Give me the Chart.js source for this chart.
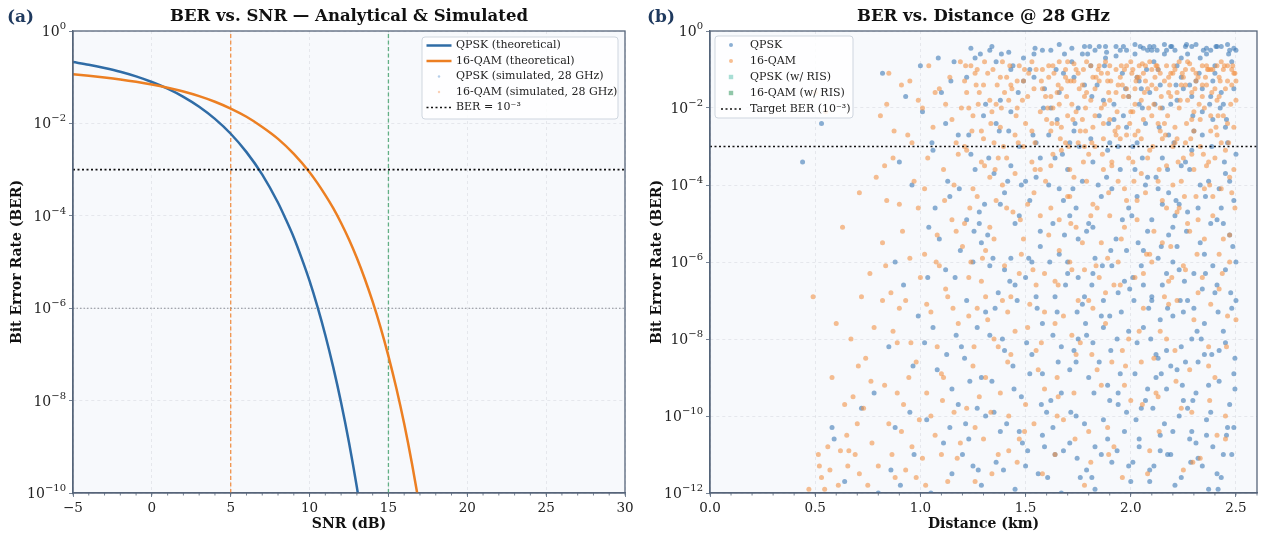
<!DOCTYPE html>
<html>
<head>
<meta charset="utf-8">
<script src="https://cdn.jsdelivr.net/npm/chart.js@4.4.1/dist/chart.umd.min.js"></script>
<style>
  html, body { margin: 0; padding: 0; background: #ffffff; }
  #wrap { position: relative; width: 1261px; height: 534px; }
  .panel { position: absolute; top: 0; height: 534px; }
  #left { left: 0; width: 640px; }
  #right { left: 640px; width: 621px; }
</style>
</head>
<body>
<div id="wrap">
  <div class="panel" id="left"><canvas id="snrChart"></canvas></div>
  <div class="panel" id="right"><canvas id="distChart"></canvas></div>
</div>
<script>
// ---- panel (a): BER vs SNR ----
const snr_qpsk = [-5, -4, -3, -2, -1, 0, 1, 2, 3, 4, 5, 6, 7, 8, 8.5, 9, 9.5, 10, 10.5, 11, 11.5, 12, 12.5, 13, 13.5];
const ber_qpsk = [0.213, 0.186, 0.158, 0.131, 0.104, 0.0786, 0.0563, 0.0375, 0.0229, 0.0125, 0.00597, 0.00239,
  7.8e-4, 1.92e-4, 8.3e-5, 3.4e-5, 1.2e-5, 3.9e-6, 1.08e-6, 2.6e-7, 5.3e-8, 9.0e-9, 1.24e-9, 1.33e-10, 1.1e-11];

const snr_qam16 = [-5, -4, -3, -2, -1, 0, 1, 2, 3, 4, 5, 6, 7, 8, 9, 10, 10.5, 11, 11.5, 12, 12.5, 13, 13.5, 14, 14.5, 15, 15.5, 16, 16.5, 17];
const ber_qam16 = [0.1153, 0.1074, 0.0987, 0.0895, 0.0797, 0.0696, 0.0592, 0.049, 0.0389, 0.0294, 0.0209, 0.0139,
  0.00838, 0.00463, 0.00219, 8.77e-4, 5.1e-4, 2.8e-4, 1.46e-4, 6.97e-5, 3.06e-5, 1.22e-5, 4.35e-6, 1.38e-6,
  3.86e-7, 9.2e-8, 1.87e-8, 3.14e-9, 4.2e-10, 4.5e-11];

const snrTicks = [-5, 0, 5, 10, 15, 20, 25, 30];
const berTicksA = [1, 1e-2, 1e-4, 1e-6, 1e-8, 1e-10];
const snrMarkers = [5, 15];          // vertical dashed lines
const berTarget = 1e-3;
const berRef = 1e-6;

// ---- panel (b): BER vs distance, [km, log10(BER)] ----
const qpskPts = [
  [0.44,-3.4],[0.53,-2.4],[0.58,-10.3],[0.59,-10.6],[0.64,-11.7],[0.72,-9.8],[0.78,-9.4],[0.80,-12.0],
  [0.82,-1.1],[0.85,-8.2],[0.86,-11.4],[0.88,-10.3],[0.9,-3.4],[0.92,-6.6],[0.95,-9.9],[0.97,-11.0],[0.99,-7.4],[1.0,-0.9],
  [1.01,-2.1],[1.03,-10.1],[1.04,-5.1],[1.05,-12.0],[1.07,-4.6],[1.08,-8.8],[1.1,-1.6],[1.11,-10.7],[1.12,-6.2],[1.13,-3.9],
  [1.15,-11.5],[1.15,-9.3],[1.16,-0.8],[1.17,-7.9],[1.18,-2.7],[1.19,-5.7],[1.2,-11.0],[1.14,-4.3],[1.06,-7.7],[0.93,-1.7],
  [1.21,-8.5],[1.22,-1.2],[1.23,-10.6],[1.24,-3.2],[1.25,-6.0],[1.26,-0.7],[1.27,-9.8],[1.28,-4.7],[1.29,-11.8],[1.3,-2.2],
  [1.31,-7.3],[1.32,-5.3],[1.33,-0.5],[1.34,-9.1],[1.35,-3.7],[1.36,-11.2],[1.37,-6.8],[1.38,-1.8],[1.39,-8.0],[1.4,-4.2],
  [1.41,-10.2],[1.42,-2.6],[1.43,-5.9],[1.44,-0.9],[1.45,-11.9],[1.46,-7.0],[1.47,-3.0],[1.48,-9.5],[1.49,-1.3],[1.5,-6.4],
  [1.51,-10.9],[1.52,-4.4],[1.53,-8.4],[1.54,-0.6],[1.55,-2.9],[1.56,-11.5],[1.57,-5.6],[1.58,-7.6],[1.59,-1.5],[1.6,-9.9],
  [1.22,-4.9],[1.27,-7.7],[1.31,-10.0],[1.36,-2.4],[1.4,-6.2],[1.44,-8.7],[1.47,-4.8],[1.52,-1.0],[1.55,-6.9],[1.58,-10.5],
  [1.29,-5.5],[1.34,-0.4],[1.43,-3.5],[1.5,-11.3],[1.57,-3.3],
  [1.61,-4.0],[1.62,-0.5],[1.63,-7.9],[1.64,-11.0],[1.65,-2.3],[1.66,-5.8],[1.67,-9.4],[1.68,-1.1],[1.69,-6.6],[1.7,-3.6],
  [1.71,-10.7],[1.72,-0.8],[1.73,-8.3],[1.74,-4.6],[1.75,-2.0],[1.76,-11.6],[1.77,-7.1],[1.78,-0.4],[1.79,-5.2],[1.8,-9.0],
  [1.81,-2.8],[1.82,-6.3],[1.83,-11.9],[1.84,-1.4],[1.85,-8.6],[1.86,-4.3],[1.87,-10.1],[1.88,-0.7],[1.89,-3.1],[1.9,-7.4],
  [1.91,-11.2],[1.92,-1.9],[1.93,-5.4],[1.94,-9.7],[1.95,-0.5],[1.96,-4.9],[1.97,-10.4],[1.98,-2.5],[1.99,-7.8],[2.0,-11.7],
  [1.62,-9.6],[1.64,-3.3],[1.66,-1.6],[1.68,-10.9],[1.7,-6.0],[1.73,-1.2],[1.75,-8.0],[1.77,-3.9],[1.79,-11.4],[1.81,-0.9],
  [1.83,-5.9],[1.85,-2.2],[1.87,-7.0],[1.89,-9.2],[1.91,-4.1],[1.93,-0.4],[1.95,-8.9],[1.97,-6.5],[1.99,-1.7],[1.63,-5.0],
  [1.67,-12.0],[1.71,-4.8],[1.74,-10.0],[1.78,-6.9],[1.82,-3.4],[1.86,-11.0],[1.9,-2.9],[1.94,-6.8],[1.98,-9.9],[1.65,-7.3],
  [2.01,-3.0],[2.02,-0.6],[2.03,-8.1],[2.04,-10.8],[2.05,-1.5],[2.06,-5.7],[2.07,-2.4],[2.08,-9.3],[2.09,-0.4],[2.1,-6.9],
  [2.11,-11.3],[2.12,-3.8],[2.13,-1.0],[2.14,-7.5],[2.15,-4.5],[2.16,-10.2],[2.17,-0.5],[2.18,-2.7],[2.19,-8.7],[2.2,-5.1],
  [2.21,-11.8],[2.22,-1.8],[2.23,-6.2],[2.24,-0.7],[2.25,-9.6],[2.26,-3.4],[2.27,-4.7],[2.28,-10.6],[2.29,-0.4],[2.3,-7.2],
  [2.31,-1.3],[2.32,-11.1],[2.33,-5.5],[2.34,-2.1],[2.35,-8.4],[2.36,-0.6],[2.37,-3.9],[2.38,-9.9],[2.39,-6.1],[2.4,-1.1],
  [2.41,-11.5],[2.42,-4.1],[2.43,-0.4],[2.44,-7.8],[2.45,-2.5],[2.46,-10.3],[2.47,-5.3],[2.48,-0.8],[2.49,-8.9],[2.5,-3.2],
  [2.01,-6.4],[2.03,-1.2],[2.05,-9.8],[2.07,-4.0],[2.09,-11.7],[2.11,-0.8],[2.13,-5.9],[2.15,-2.0],[2.17,-8.3],[2.19,-0.4],
  [2.21,-4.8],[2.23,-10.0],[2.25,-1.5],[2.27,-7.0],[2.29,-3.1],[2.31,-9.4],[2.33,-0.7],[2.35,-5.8],[2.37,-11.9],[2.39,-2.3],
  [2.41,-6.6],[2.43,-1.6],[2.45,-8.1],[2.47,-0.5],[2.49,-4.4],[2.02,-3.6],[2.06,-7.7],[2.1,-0.5],[2.14,-10.9],[2.18,-4.2],
  [2.22,-0.9],[2.26,-8.6],[2.3,-2.6],[2.34,-6.7],[2.38,-0.5],[2.42,-9.1],[2.46,-2.9],[2.5,-6.0],[2.04,-1.9],[2.08,-5.2],
  [2.12,-9.0],[2.16,-0.6],[2.2,-7.4],[2.24,-3.5],[2.28,-1.4],[2.32,-4.6],[2.36,-10.5],[2.4,-0.9],[2.44,-5.0],[2.48,-11.0],
  [1.24,-0.45],[1.31,-1.9],[1.38,-4.5],[1.45,-6.6],[1.52,-8.9],[1.59,-10.8],[1.66,-0.35],[1.73,-2.6],[1.8,-5.0],[1.87,-7.7],
  [1.94,-9.4],[2.01,-11.2],[2.08,-0.5],[2.15,-3.3],[2.22,-5.6],[2.29,-8.0],[2.36,-10.1],[2.43,-11.6],[2.5,-0.5],
  [1.26,-3.6],[1.33,-6.1],[1.4,-8.3],[1.47,-10.4],[1.54,-1.2],[1.61,-2.7],[1.68,-4.4],[1.75,-6.4],[1.82,-8.1],[1.89,-10.6],
  [1.96,-1.1],[2.03,-2.9],[2.1,-4.9],[2.17,-6.3],[2.24,-8.2],[2.31,-10.7],[2.38,-1.7],[2.45,-3.7],
  [1.22,-7.0],[1.29,-9.0],[1.36,-0.8],[1.43,-2.1],[1.5,-3.9],[1.57,-5.2],[1.64,-6.9],[1.71,-8.8],[1.78,-10.2],[1.85,-0.4],
  [1.92,-2.3],[1.99,-4.6],[2.06,-6.6],[2.13,-8.5],[2.2,-10.4],[2.27,-0.6],[2.34,-2.7],[2.41,-4.9],[2.48,-7.2],
  [1.12,-2.4],[1.18,-9.7],[1.09,-5.4],[1.02,-8.1],[0.96,-4.0],[0.88,-6.0],[1.14,-10.3],[1.06,-3.1],
  [2.02,-0.35],[2.06,-0.45],[2.11,-0.4],[2.16,-0.35],[2.21,-0.5],[2.26,-0.4],[2.31,-0.35],[2.36,-0.45],[2.41,-0.4],[2.46,-0.35],
  [2.49,-0.45],[1.72,-0.45],[1.77,-0.6],[1.83,-0.5],[1.88,-0.4],[1.93,-0.65],[1.98,-0.5],[1.58,-0.5],[1.49,-0.7],[1.42,-0.55],
  [2.04,-1.3],[2.09,-1.6],[2.14,-1.4],[2.19,-1.9],[2.24,-1.2],[2.29,-1.7],[2.34,-1.5],[2.39,-1.3],[2.44,-1.9],[2.49,-1.5],
  [2.03,-4.3],[2.08,-3.8],[2.13,-4.1],[2.18,-5.3],[2.23,-4.5],[2.28,-3.6],[2.33,-4.0],[2.38,-5.0],[2.43,-4.6],[2.47,-3.9],
  [2.05,-6.1],[2.1,-7.0],[2.15,-6.6],[2.2,-6.0],[2.25,-7.3],[2.3,-6.3],[2.35,-7.6],[2.4,-6.8],[2.45,-6.2],[2.5,-7.0],
  [2.02,-8.9],[2.07,-9.6],[2.12,-8.4],[2.17,-9.3],[2.22,-8.8],[2.27,-9.8],[2.32,-8.6],[2.37,-9.2],[2.42,-8.3],[2.47,-9.7],
  [2.04,-10.6],[2.09,-11.4],[2.14,-10.5],[2.19,-11.0],[2.24,-11.6],[2.29,-10.4],[2.34,-11.3],[2.39,-10.8],[2.44,-11.0],[2.49,-10.3],
  [1.62,-2.0],[1.66,-4.1],[1.7,-6.3],[1.74,-8.6],[1.78,-1.4],[1.82,-5.1],[1.86,-7.4],[1.9,-9.6],[1.94,-3.0],[1.98,-5.7],
  [1.63,-10.3],[1.67,-8.2],[1.71,-2.9],[1.75,-5.4],[1.79,-7.9],[1.83,-10.8],[1.87,-1.8],[1.91,-6.1],[1.95,-3.6],[1.99,-11.3],
  [1.23,-2.7],[1.28,-5.0],[1.33,-7.9],[1.38,-10.4],[1.43,-1.0],[1.48,-4.0],[1.53,-6.0],[1.58,-8.9],[1.25,-11.3],[1.35,-9.9],
  [1.45,-5.0],[1.55,-3.8],
  [1.055,-2.9],[1.125,-8.4],[1.185,-4.1],[1.215,-10.2],[1.255,-5.2],[1.285,-0.6],[1.325,-3.3],[1.355,-7.2],[1.395,-11.4],[1.425,-6.5],
  [1.465,-1.6],[1.505,-8.1],[1.535,-2.7],[1.575,-9.7],[1.615,-6.0],[1.645,-1.0],[1.685,-5.3],[1.715,-9.9],[1.755,-3.0],[1.785,-7.6],
  [1.815,-11.6],[1.845,-4.0],[1.875,-0.9],[1.905,-5.7],[1.935,-8.0],[1.965,-2.2],[1.995,-6.7],[2.025,-10.1],[2.055,-3.3],[2.085,-7.2],
  [2.115,-1.9],[2.145,-5.6],[2.175,-11.0],[2.205,-2.9],[2.235,-7.0],[2.265,-5.2],[2.295,-9.6],[2.325,-1.1],[2.355,-4.3],[2.385,-8.4],
  [2.415,-11.9],[2.445,-3.4],[2.475,-6.8],[2.495,-9.3],
  [1.085,-0.7],[1.165,-6.4],[1.235,-9.1],[1.305,-4.5],[1.375,-2.6],[1.445,-9.3],[1.515,-5.9],[1.585,-2.0],[1.655,-8.6],[1.725,-4.1],
  [1.795,-0.6],[1.865,-6.1],[1.935,-10.9],[2.005,-4.8],[2.075,-1.0],[2.145,-8.9],[2.215,-4.4],[2.285,-11.2],[2.355,-6.3],[2.425,-2.0],
  [2.485,-5.6],[1.605,-11.6],[1.675,-3.2],[1.745,-11.1],[1.815,-6.6],[1.885,-3.8],[1.955,-7.3],[2.035,-5.5],[2.105,-9.8],[2.175,-3.6],
  [2.245,-9.2],[2.315,-7.8],[2.385,-3.0],[2.455,-10.5],[2.045,-0.4],[2.125,-0.5],[2.195,-0.4],[2.265,-0.35],[2.345,-0.5],[2.405,-0.4],
  [2.465,-0.6],[1.965,-0.4],[1.885,-0.55],[1.805,-0.4],[1.685,-0.6],[1.545,-0.45],[1.385,-0.6],
  [2.055,-2.0],[2.135,-2.5],[2.215,-1.4],[2.295,-2.2],[2.375,-1.9],[2.455,-2.3],[1.975,-1.5],[1.895,-2.4],[1.815,-1.7],[1.735,-2.4],
  [2.015,-7.0],[2.095,-8.0],[2.175,-7.2],[2.255,-6.5],[2.335,-8.0],[2.415,-7.3],[2.495,-8.5],[1.905,-8.3],[1.825,-9.4],[1.745,-7.3],
  [0.965,-8.7],[1.035,-6.4],[0.905,-11.8],[1.145,-1.3],[1.195,-8.2],[1.275,-11.4],[1.345,-5.9],[1.415,-3.9],[1.485,-10.7],[1.555,-7.2]
];
const qam16Pts = [
  [0.47,-11.9],[0.49,-6.9],[0.5,-1.6],[0.52,-11.3],[0.53,-11.6],[0.55,-2.1],[0.57,-11.4],[0.6,-7.6],[0.62,-10.9],[0.63,-5.1],
  [0.65,-10.5],[0.66,-10.9],[0.68,-9.5],[0.69,-11.0],[0.7,-10.2],[0.71,-4.2],[0.73,-9.8],[0.74,-8.5],[0.75,-11.8],[0.76,-6.3],
  [0.78,-7.7],[0.79,-3.8],[0.8,-11.3],[0.67,-8.0],[0.58,-9.0],
  [0.81,-2.2],[0.82,-5.5],[0.83,-9.2],[0.84,-1.9],[0.85,-10.2],[0.86,-6.8],[0.87,-3.3],[0.88,-11.6],[0.89,-8.1],[0.9,-4.5],
  [0.91,-1.4],[0.92,-9.7],[0.93,-7.0],[0.94,-2.7],[0.95,-5.9],[0.96,-10.8],[0.97,-3.9],[0.98,-8.6],[0.99,-1.8],[1.0,-6.4],
  [1.01,-11.1],[1.02,-4.1],[1.03,-9.4],[1.04,-0.9],[1.05,-7.3],[1.06,-2.5],[1.07,-10.5],[1.08,-5.3],[1.09,-1.5],[1.1,-8.9],
  [1.11,-3.6],[1.12,-6.7],[1.13,-11.7],[1.14,-1.2],[1.15,-4.9],[1.16,-9.9],[1.17,-2.9],[1.18,-7.6],[1.19,-0.8],[1.2,-5.6],
  [0.83,-3.5],[0.87,-7.8],[0.91,-10.4],[0.95,-1.3],[0.99,-4.6],[1.03,-7.1],[1.07,-1.6],[1.11,-9.0],[1.15,-2.3],[1.19,-10.7],
  [0.85,-1.1],[0.93,-11.4],[1.01,-2.0],[1.09,-6.1],[1.17,-5.2],
  [1.21,-1.3],[1.22,-3.1],[1.23,-7.4],[1.24,-0.9],[1.25,-2.2],[1.26,-10.3],[1.27,-4.3],[1.28,-1.6],[1.29,-6.5],[1.3,-2.8],
  [1.31,-9.0],[1.32,-1.1],[1.33,-3.8],[1.34,-11.5],[1.35,-5.4],[1.36,-1.9],[1.37,-8.2],[1.38,-2.5],[1.39,-0.8],[1.4,-6.1],
  [1.41,-3.3],[1.42,-10.0],[1.43,-1.4],[1.44,-4.7],[1.45,-7.8],[1.46,-2.0],[1.47,-0.9],[1.48,-5.8],[1.49,-3.0],[1.5,-9.7],
  [1.51,-1.7],[1.52,-7.1],[1.53,-2.6],[1.54,-4.2],[1.55,-1.0],[1.56,-8.8],[1.57,-3.6],[1.58,-1.5],[1.59,-6.3],[1.6,-2.3],
  [1.21,-5.0],[1.23,-2.0],[1.25,-8.7],[1.27,-1.0],[1.29,-3.4],[1.31,-5.7],[1.33,-1.8],[1.35,-2.9],[1.37,-11.0],[1.39,-4.0],
  [1.41,-1.2],[1.43,-6.9],[1.45,-2.7],[1.47,-10.6],[1.49,-1.3],[1.51,-4.5],[1.53,-0.8],[1.55,-6.6],[1.57,-2.1],[1.59,-9.3],
  [1.24,-6.0],[1.28,-9.5],[1.32,-7.5],[1.36,-4.4],[1.4,-1.6],
  [1.61,-1.2],[1.62,-3.5],[1.63,-0.9],[1.64,-7.6],[1.65,-2.4],[1.66,-4.9],[1.67,-1.5],[1.68,-10.1],[1.69,-2.9],[1.7,-0.8],
  [1.71,-6.0],[1.72,-1.9],[1.73,-3.8],[1.74,-8.4],[1.75,-1.1],[1.76,-2.6],[1.77,-5.5],[1.78,-11.8],[1.79,-1.6],[1.8,-3.2],
  [1.81,-0.9],[1.82,-7.2],[1.83,-2.2],[1.84,-4.6],[1.85,-1.3],[1.86,-9.2],[1.87,-2.8],[1.88,-0.8],[1.89,-5.9],[1.9,-1.8],
  [1.91,-3.4],[1.92,-10.8],[1.93,-1.0],[1.94,-2.5],[1.95,-6.6],[1.96,-1.4],[1.97,-4.1],[1.98,-0.9],[1.99,-8.0],[2.0,-2.1],
  [1.61,-5.3],[1.63,-2.0],[1.65,-9.0],[1.67,-3.1],[1.69,-1.0],[1.71,-4.3],[1.73,-1.3],[1.75,-7.0],[1.77,-2.3],[1.79,-0.8],
  [1.81,-4.8],[1.83,-1.5],[1.85,-6.4],[1.87,-3.6],[1.89,-1.1],[1.91,-8.6],[1.93,-2.7],[1.95,-1.2],[1.97,-5.1],[1.99,-1.7],
  [1.62,-1.7],[1.66,-0.8],[1.7,-2.2],[1.74,-1.0],[1.78,-3.0],[1.82,-1.2],[1.86,-2.0],[1.9,-0.9],[1.94,-3.9],[1.98,-1.5],
  [1.64,-11.0],[1.72,-7.9],[1.8,-10.4],[1.88,-6.8],[1.96,-11.6],
  [2.01,-1.0],[2.02,-2.7],[2.03,-4.4],[2.04,-0.9],[2.05,-1.8],[2.06,-6.3],[2.07,-1.3],[2.08,-3.3],[2.09,-0.8],[2.1,-2.2],
  [2.11,-8.5],[2.12,-1.5],[2.13,-3.9],[2.14,-1.1],[2.15,-5.5],[2.16,-2.4],[2.17,-0.9],[2.18,-7.1],[2.19,-1.7],[2.2,-3.0],
  [2.21,-1.0],[2.22,-4.7],[2.23,-2.0],[2.24,-9.8],[2.25,-1.2],[2.26,-2.9],[2.27,-0.8],[2.28,-5.2],[2.29,-1.6],[2.3,-3.6],
  [2.31,-1.1],[2.32,-6.8],[2.33,-2.3],[2.34,-0.9],[2.35,-4.1],[2.36,-1.4],[2.37,-8.2],[2.38,-2.6],[2.39,-1.0],[2.4,-3.3],
  [2.41,-1.8],[2.42,-5.8],[2.43,-0.8],[2.44,-2.2],[2.45,-10.6],[2.46,-1.3],[2.47,-3.8],[2.48,-1.0],[2.49,-2.5],[2.5,-7.5],
  [2.01,-2.1],[2.03,-1.2],[2.05,-3.7],[2.07,-0.9],[2.09,-5.8],[2.11,-1.9],[2.13,-1.0],[2.15,-2.8],[2.17,-4.6],[2.19,-1.1],
  [2.21,-2.5],[2.23,-0.8],[2.25,-6.1],[2.27,-1.8],[2.29,-3.2],[2.31,-1.3],[2.33,-11.1],[2.35,-2.0],[2.37,-1.0],[2.39,-4.3],
  [2.41,-0.9],[2.43,-2.9],[2.45,-1.5],[2.47,-6.0],[2.49,-1.1],[2.02,-1.5],[2.06,-1.1],[2.1,-1.4],[2.14,-2.0],[2.18,-1.2],
  [2.22,-1.6],[2.26,-1.0],[2.3,-2.1],[2.34,-1.4],[2.38,-1.0],[2.42,-1.7],[2.46,-0.9],[2.5,-1.3],[2.04,-7.8],[2.12,-9.4],
  [2.2,-4.0],[2.28,-8.8],[2.36,-3.5],[2.44,-5.4],[2.08,-11.5],[2.16,-6.9],[2.24,-3.9],[2.32,-4.9],[2.4,-9.0],[2.48,-4.2],
  [1.22,-1.6],[1.26,-1.1],[1.3,-1.4],[1.34,-2.1],[1.38,-1.2],[1.42,-1.8],[1.46,-1.3],[1.5,-2.4],[1.54,-1.5],[1.58,-1.0],
  [1.62,-2.6],[1.66,-1.9],[1.7,-1.3],[1.74,-2.1],[1.78,-1.7],[1.82,-2.5],[1.86,-1.1],[1.9,-2.3],[1.94,-1.4],[1.98,-2.7],
  [2.02,-1.9],[2.06,-2.3],[2.1,-1.0],[2.14,-2.6],[2.18,-1.6],[2.22,-2.8],[2.26,-1.4],[2.3,-2.6],[2.34,-1.7],[2.38,-2.2],
  [2.42,-1.2],[2.46,-2.4],[2.5,-1.8],
  [2.0,-0.8],[2.04,-1.2],[2.08,-1.5],[2.12,-0.9],[2.16,-1.3],[2.2,-1.1],[2.24,-1.4],[2.28,-0.85],[2.32,-1.2],[2.36,-0.9],
  [2.4,-1.5],[2.44,-1.0],[2.48,-1.4],
  [2.01,-3.4],[2.05,-2.8],[2.09,-3.1],[2.13,-2.4],[2.17,-3.5],[2.21,-2.9],[2.25,-3.3],[2.29,-2.3],[2.33,-3.0],[2.37,-3.4],
  [2.41,-2.7],[2.45,-3.1],[2.49,-3.6],
  [2.03,-4.9],[2.07,-4.2],[2.11,-5.2],[2.15,-4.4],[2.19,-5.6],[2.23,-4.6],[2.27,-5.0],[2.31,-4.3],[2.35,-5.4],[2.39,-4.8],
  [2.43,-4.1],[2.47,-5.3],
  [2.02,-6.4],[2.06,-7.2],[2.1,-6.0],[2.14,-7.8],[2.18,-6.5],[2.22,-7.0],[2.26,-6.2],[2.3,-7.5],[2.34,-6.4],[2.38,-7.1],
  [2.42,-6.7],[2.46,-7.4],
  [2.05,-8.6],[2.13,-9.5],[2.21,-8.3],[2.29,-9.9],[2.37,-8.7],[2.45,-10.0],[2.09,-10.9],[2.25,-11.4],[2.41,-10.5],[2.17,-8.0],
  [1.61,-0.9],[1.65,-1.6],[1.69,-1.2],[1.73,-0.85],[1.77,-1.4],[1.81,-1.8],[1.85,-0.9],[1.89,-1.3],[1.93,-1.6],[1.97,-1.0],
  [1.63,-3.2],[1.67,-2.5],[1.71,-3.6],[1.75,-2.9],[1.79,-3.9],[1.83,-3.0],[1.87,-2.4],[1.91,-3.5],[1.95,-2.8],[1.99,-3.3],
  [1.62,-4.6],[1.66,-5.7],[1.7,-4.3],[1.74,-5.1],[1.78,-6.2],[1.82,-4.5],[1.86,-5.5],[1.9,-4.8],[1.94,-6.0],[1.98,-4.4],
  [1.64,-6.5],[1.68,-7.4],[1.72,-6.2],[1.76,-8.1],[1.8,-7.0],[1.84,-8.8],[1.88,-7.6],[1.92,-6.6],[1.96,-8.3],[2.0,-9.6],
  [1.65,-10.0],[1.73,-9.4],[1.81,-11.2],[1.89,-10.3],[1.97,-9.2],
  [1.21,-3.0],[1.25,-4.1],[1.29,-2.6],[1.33,-5.1],[1.37,-3.3],[1.41,-4.6],[1.45,-3.7],[1.49,-5.4],[1.53,-3.4],[1.57,-4.8],
  [1.23,-6.4],[1.27,-7.2],[1.31,-6.9],[1.35,-8.0],[1.39,-7.0],[1.43,-8.4],[1.47,-6.3],[1.51,-7.7],[1.55,-8.3],[1.59,-7.3],
  [1.22,-9.8],[1.3,-10.6],[1.38,-9.4],[1.46,-11.2],[1.54,-10.2],[1.26,-11.7],[1.42,-10.9],[1.58,-11.5],
  [0.84,-4.4],[0.9,-7.2],[0.96,-2.9],[1.02,-5.8],[1.08,-8.2],[1.12,-1.9],[1.16,-4.0],[1.05,-10.0],[0.98,-11.6],[0.89,-9.4],
  [0.82,-7.0],[1.13,-6.9],[1.18,-3.2],[1.1,-11.0],
  [0.72,-6.9],[0.64,-9.7],[0.77,-10.7],[0.61,-11.8],[0.71,-11.5],[0.56,-10.8],
  [1.215,-0.9],[1.245,-2.6],[1.275,-1.9],[1.305,-0.8],[1.335,-2.4],[1.365,-1.4],[1.395,-3.0],[1.425,-0.9],[1.455,-2.2],[1.485,-1.8],
  [1.515,-1.1],[1.545,-2.9],[1.575,-1.3],[1.605,-2.0],[1.635,-1.1],[1.665,-2.8],[1.695,-1.7],[1.725,-2.3],[1.755,-1.5],[1.785,-2.0],
  [1.815,-2.9],[1.845,-1.0],[1.875,-1.9],[1.905,-1.3],[1.935,-2.1],[1.965,-1.7],[1.995,-2.4],[2.025,-1.3],[2.055,-0.85],[2.085,-2.0],
  [2.115,-1.2],[2.145,-1.7],[2.175,-2.2],[2.205,-0.9],[2.235,-1.8],[2.265,-2.4],[2.295,-1.0],[2.325,-1.9],[2.355,-1.2],[2.385,-1.6],
  [2.415,-2.2],[2.445,-0.9],[2.475,-1.9],[2.495,-1.1],
  [1.235,-4.6],[1.295,-5.9],[1.355,-3.6],[1.415,-7.3],[1.475,-4.9],[1.535,-6.2],[1.595,-3.9],[1.655,-6.6],[1.715,-5.0],[1.775,-3.4],
  [1.835,-6.1],[1.895,-4.2],[1.955,-5.4],[2.015,-3.9],[2.075,-5.8],[2.135,-3.6],[2.195,-6.4],[2.255,-4.3],[2.315,-5.8],[2.375,-4.0],
  [2.435,-6.3],[2.495,-4.6],
  [1.255,-8.2],[1.335,-9.9],[1.415,-8.6],[1.495,-10.4],[1.575,-8.1],[1.655,-9.5],[1.735,-10.6],[1.815,-8.4],[1.895,-11.0],[1.975,-8.7],
  [2.055,-9.7],[2.135,-10.4],[2.215,-9.1],[2.295,-11.2],[2.375,-9.6],[2.455,-8.2],
  [0.835,-6.1],[0.875,-2.6],[0.915,-5.2],[0.955,-8.1],[0.995,-10.1],[1.035,-3.3],[1.075,-6.0],[1.115,-4.4],[1.155,-7.2],[1.195,-2.0],
  [0.865,-11.0],[0.945,-9.0],[1.025,-11.8],[1.105,-9.6],[1.175,-11.1],[0.765,-9.1],[0.705,-8.7],[0.655,-11.3],[0.545,-11.9],[0.515,-11.0],
  [2.035,-2.6],[2.105,-3.0],[2.165,-2.7],[2.225,-3.4],[2.285,-2.8],[2.345,-3.2],[2.405,-2.5],[2.465,-2.9],[1.925,-2.6],[1.865,-3.2],
  [1.785,-2.6],[1.705,-3.0],[1.625,-2.4],[1.545,-3.6],[1.465,-2.9],[1.385,-2.0],[1.305,-3.5],
  [2.005,-1.1],[2.065,-1.6],[2.125,-0.9],[2.185,-1.4],[2.245,-1.1],[2.305,-1.5],[2.365,-1.0],[2.425,-1.3],[2.485,-0.9],[1.955,-0.9],
  [1.895,-1.6],[1.835,-1.2],[1.775,-1.0],[1.715,-1.3],[1.655,-1.4],[1.595,-1.7],[1.495,-1.0],[1.435,-1.5],[1.345,-1.0],[1.265,-1.4]
];
const distTicks = [0, 0.5, 1.0, 1.5, 2.0, 2.5];
const berTicksB = [1, 1e-2, 1e-4, 1e-6, 1e-8, 1e-10, 1e-12];

const SERIF = '"DejaVu Serif", serif';
const BLUE = '#2f6ca6';
const ORANGE = '#ec7f22';

function toXY(xs, ys) {
  return xs.map((x, i) => ({ x: x, y: ys[i] }));
}

function ptsToXY(pts) {
  return pts.map(p => ({ x: p[0], y: Math.pow(10, p[1]) }));
}

// background, frame, minor ticks, log tick labels, title, panel tag and the in-axes legend
const panelDecor = {
  id: 'panelDecor',
  beforeDraw(chart) {
    const { ctx, chartArea: a } = chart;
    ctx.save();
    ctx.fillStyle = '#f7f9fc';
    ctx.fillRect(a.left, a.top, a.right - a.left, a.bottom - a.top);
    ctx.restore();
  },
  afterDraw(chart, args, opts) {
    const { ctx, chartArea: a } = chart;
    const xs = chart.scales.x;
    const ys = chart.scales.y;
    ctx.save();

    // minor ticks on the x axis
    ctx.strokeStyle = '#56657a';
    ctx.lineWidth = 0.8;
    ctx.beginPath();
    for (let v = xs.min; v <= xs.max + 1e-9; v += opts.minorStep) {
      const px = xs.getPixelForValue(v);
      ctx.moveTo(px, a.bottom);
      ctx.lineTo(px, a.bottom + 2.5);
    }
    ctx.stroke();

    // frame
    ctx.lineWidth = 1.3;
    ctx.strokeRect(a.left, a.top, a.right - a.left, a.bottom - a.top);

    // y tick labels as 10 with a raised exponent
    ctx.fillStyle = '#222222';
    ctx.textBaseline = 'alphabetic';
    ctx.textAlign = 'left';
    opts.yTicks.forEach(v => {
      const py = ys.getPixelForValue(v);
      const e = Math.round(Math.log10(v));
      const expText = e < 0 ? '\u2212' + Math.abs(e) : String(e);
      ctx.font = '10px ' + SERIF;
      const ew = ctx.measureText(expText).width;
      ctx.font = '14px ' + SERIF;
      const bw = ctx.measureText('10').width;
      const right = a.left - 7;
      ctx.fillText('10', right - ew - bw, py + 5);
      ctx.font = '10px ' + SERIF;
      ctx.fillText(expText, right - ew, py - 2);
    });

    // title + tag
    ctx.fillStyle = '#111111';
    ctx.font = 'bold 16.5px ' + SERIF;
    ctx.textAlign = 'center';
    ctx.textBaseline = 'middle';
    ctx.fillText(opts.title, (a.left + a.right) / 2, 17);
    ctx.fillStyle = '#1f3a5f';
    ctx.font = 'bold 17px ' + SERIF;
    ctx.textAlign = 'left';
    ctx.fillText(opts.tag, opts.tagX, 18);

    // legend box
    const L = opts.legend;
    const items = chart.data.datasets.filter(d => d.legendKind);
    ctx.fillStyle = 'rgba(255,255,255,0.85)';
    ctx.strokeStyle = '#cfd6df';
    ctx.lineWidth = 1;
    ctx.beginPath();
    ctx.roundRect(L.x, L.y, L.w, L.h, 3);
    ctx.fill();
    ctx.stroke();
    ctx.font = L.fontSize + 'px ' + SERIF;
    ctx.textBaseline = 'middle';
    items.forEach((d, i) => {
      const cy = L.y + L.first + i * L.gap;
      const sx = L.symX;
      if (d.legendKind === 'line') {
        ctx.save();
        ctx.strokeStyle = d.borderColor;
        ctx.lineWidth = d.borderWidth;
        ctx.setLineDash(d.borderDash || []);
        ctx.beginPath();
        ctx.moveTo(sx - L.symW / 2, cy);
        ctx.lineTo(sx + L.symW / 2, cy);
        ctx.stroke();
        ctx.restore();
      } else if (d.legendKind === 'dot') {
        ctx.fillStyle = d.backgroundColor;
        ctx.beginPath();
        ctx.arc(sx, cy, d.legendSize, 0, Math.PI * 2);
        ctx.fill();
      } else if (d.legendKind === 'rect') {
        ctx.fillStyle = d.backgroundColor;
        ctx.fillRect(sx - d.legendSize, cy - d.legendSize, d.legendSize * 2, d.legendSize * 2);
      }
      ctx.fillStyle = '#222222';
      ctx.fillText(d.label, L.textX, cy);
    });
    ctx.restore();
  }
};

function axisCommon() {
  return {
    border: { color: '#56657a', width: 1.3, dash: [3, 3] },
    grid: { color: 'rgba(120,130,145,0.18)', lineWidth: 0.8, tickColor: '#56657a', tickLength: 4, tickBorderDash: [] },
    ticks: { color: '#222222', font: { family: SERIF, size: 13.5 }, padding: 3 }
  };
}

function makeChart(canvasId, datasets, cfg) {
  const xAxis = axisCommon();
  const yAxis = axisCommon();
  cfg.decor.yTicks = cfg.yTicks;
  return new Chart(document.getElementById(canvasId), {
    type: 'scatter',
    data: { datasets: datasets },
    options: {
      responsive: true,
      maintainAspectRatio: false,
      animation: false,
      layout: { padding: { left: 0, top: 31, right: cfg.padRight, bottom: 0 } },
      scales: {
        x: Object.assign(xAxis, {
          type: 'linear', min: cfg.xMin, max: cfg.xMax,
          afterBuildTicks: s => { s.ticks = cfg.xTicks.map(v => ({ value: v })); },
          afterFit: s => { s.height = 41; },
          ticks: Object.assign(xAxis.ticks, { maxRotation: 0, callback: cfg.xFormat }),
          title: { display: true, text: cfg.xTitle, color: '#111111', font: { family: SERIF, size: 14, weight: 'bold' }, padding: { top: 0, bottom: 1 } }
        }),
        y: Object.assign(yAxis, {
          type: 'logarithmic', min: cfg.yMin, max: 1,
          afterBuildTicks: s => { s.ticks = cfg.yTicks.map(v => ({ value: v })); },
          afterFit: s => { s.width = cfg.yWidth; },
          ticks: Object.assign(yAxis.ticks, { callback: () => '' }),
          title: { display: true, text: 'Bit Error Rate (BER)', color: '#111111', font: { family: SERIF, size: 14, weight: 'bold' }, padding: { top: 9, bottom: 0 } }
        })
      },
      plugins: {
        legend: { display: false },
        tooltip: { enabled: false },
        panelDecor: cfg.decor
      }
    },
    plugins: [panelDecor]
  });
}

// ---------- panel (a) ----------
const snrDatasets = [
  { label: 'QPSK (theoretical)', legendKind: 'line', data: toXY(snr_qpsk, ber_qpsk), showLine: true,
    borderColor: BLUE, borderWidth: 2.5, pointRadius: 0, cubicInterpolationMode: 'monotone', order: 2 },
  { label: '16-QAM (theoretical)', legendKind: 'line', data: toXY(snr_qam16, ber_qam16), showLine: true,
    borderColor: ORANGE, borderWidth: 2.5, pointRadius: 0, cubicInterpolationMode: 'monotone', order: 1 },
  { label: 'QPSK (simulated, 28 GHz)', legendKind: 'dot', legendSize: 1.2, data: [],
    backgroundColor: 'rgba(120,165,215,0.55)', pointRadius: 1 },
  { label: '16-QAM (simulated, 28 GHz)', legendKind: 'dot', legendSize: 1.2, data: [],
    backgroundColor: 'rgba(245,170,120,0.55)', pointRadius: 1 },
  { label: 'BER = 10\u207B\u00B3', legendKind: 'line', data: [{ x: -5, y: berTarget }, { x: 30, y: berTarget }], showLine: true,
    borderColor: '#111111', borderWidth: 1.6, borderDash: [2, 2.5], pointRadius: 0, order: 0 },
  { label: 'ref 1e-6', data: [{ x: -5, y: berRef }, { x: 30, y: berRef }], showLine: true,
    borderColor: '#8a8f96', borderWidth: 1.1, borderDash: [1.5, 2], pointRadius: 0, order: 3 },
  { label: 'snr 5', data: [{ x: snrMarkers[0], y: 1e-10 }, { x: snrMarkers[0], y: 1 }], showLine: true,
    borderColor: '#f0924a', borderWidth: 1.3, borderDash: [4, 2.5], pointRadius: 0, order: 3 },
  { label: 'snr 15', data: [{ x: snrMarkers[1], y: 1e-10 }, { x: snrMarkers[1], y: 1 }], showLine: true,
    borderColor: '#62b085', borderWidth: 1.3, borderDash: [4, 2.5], pointRadius: 0, order: 3 }
];

makeChart('snrChart', snrDatasets, {
  padRight: 15, yWidth: 73, xMin: -5, xMax: 30, yMin: 1e-10,
  xTicks: snrTicks, yTicks: berTicksA, xTitle: 'SNR (dB)',
  xFormat: v => (v < 0 ? '\u2212' + Math.abs(v) : String(v)),
  decor: {
    title: 'BER vs. SNR \u2014 Analytical & Simulated', tag: '(a)', tagX: 7, minorStep: 1,
    legend: { x: 422, y: 37, w: 196, h: 82, first: 8.5, gap: 15.5, symX: 439, symW: 25, textX: 456, fontSize: 11 }
  }
});

// ---------- panel (b) ----------
const distDatasets = [
  { label: 'QPSK', legendKind: 'dot', legendSize: 2, data: ptsToXY(qpskPts),
    backgroundColor: 'rgba(62,121,181,0.6)', pointRadius: 2.5, pointBorderWidth: 0, order: 2 },
  { label: '16-QAM', legendKind: 'dot', legendSize: 2, data: ptsToXY(qam16Pts),
    backgroundColor: 'rgba(241,146,72,0.6)', pointRadius: 2.5, pointBorderWidth: 0, order: 1 },
  { label: 'QPSK (w/ RIS)', legendKind: 'rect', legendSize: 2.2, data: [],
    backgroundColor: 'rgba(110,200,185,0.6)', pointStyle: 'rect' },
  { label: '16-QAM (w/ RIS)', legendKind: 'rect', legendSize: 2.2, data: [],
    backgroundColor: 'rgba(70,160,110,0.6)', pointStyle: 'rect' },
  { label: 'Target BER (10\u207B\u00B3)', legendKind: 'line', data: [{ x: 0, y: berTarget }, { x: 2.6, y: berTarget }], showLine: true,
    borderColor: '#111111', borderWidth: 1.6, borderDash: [2, 2.5], pointRadius: 0, order: 0 }
];

makeChart('distChart', distDatasets, {
  padRight: 2, yWidth: 70, xMin: 0, xMax: 2.6, yMin: 1e-12,
  xTicks: distTicks, yTicks: berTicksB, xTitle: 'Distance (km)',
  xFormat: v => Number(v).toFixed(1),
  decor: {
    title: 'BER vs. Distance @ 28 GHz', tag: '(b)', tagX: 7, minorStep: 0.1,
    legend: { x: 75, y: 36, w: 138, h: 82, first: 9, gap: 16, symX: 91, symW: 20, textX: 110, fontSize: 11 }
  }
});
</script>
</body>
</html>
